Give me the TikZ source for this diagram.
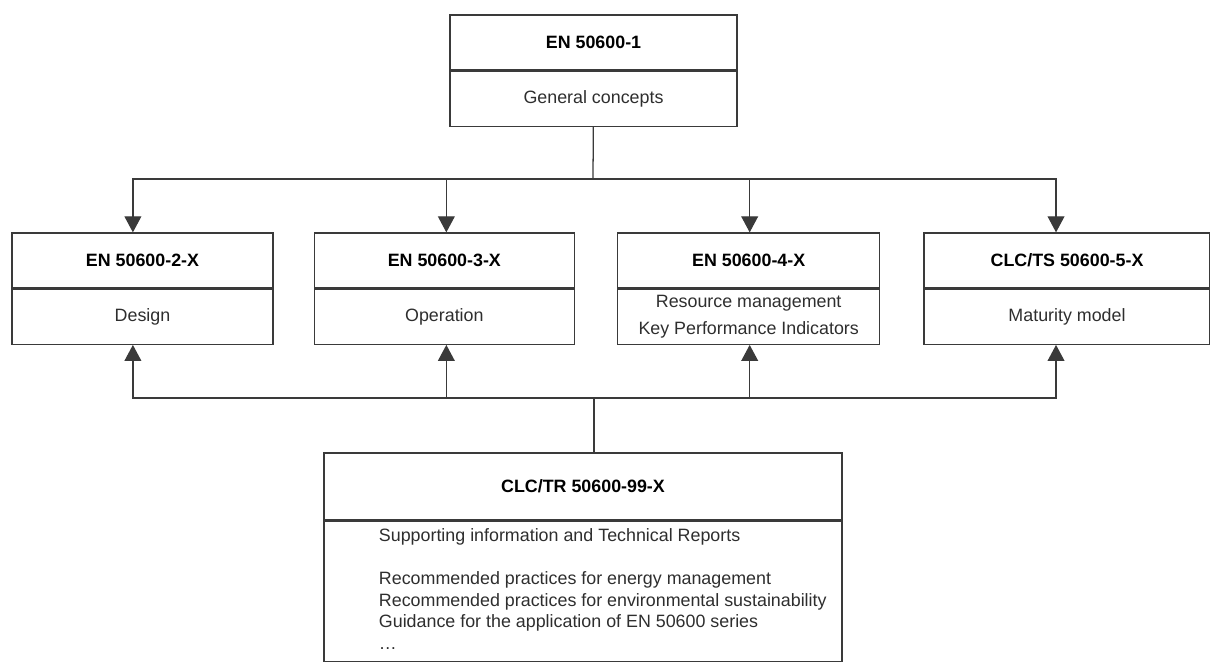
\documentclass[tikz,border=0pt]{standalone}
\usepackage{fontspec}
\setmainfont{Liberation Sans}
\usepackage{tikz}
\usetikzlibrary{arrows.meta}
\usetikzlibrary{shapes,positioning}
\definecolor{lineGray}{HTML}{3A3A3A}
\definecolor{textGray}{HTML}{2E2E2E}
\tikzset{part-line/.style={line width=0.9pt, draw=lineGray}}
\tikzset{>={Triangle[length=0.4cm, width=0.42cm]}}
\tikzset{part-head/.style={part-line, inner sep=0, minimum height=1.375cm, font=\bfseries\fontsize{12.7}{15}\selectfont}}
\tikzset{part-body/.style={part-line, inner sep=0, minimum height=1.375cm, align=center, text=textGray,
    font=\fontsize{12.7}{15.3}\selectfont}}
\newcommand{\partbox}[5]{
    \node[part-head, minimum width=#2, #3] (#1) {#4};
    \node[part-body, minimum width=#2, below=0pt of #1] (#1body) {#5};
}

\begin{document}
\begin{tikzpicture}[x=0.025cm, y=-0.025cm]
    \useasboundingbox (0,0) rectangle (1210,666);

    \partbox{general}{7.175cm}{at={(593.5,42.5)}}{EN 50600-1}{General concepts}

    \partbox{design}{6.525cm}{at={(142.5,260.5)}}{EN 50600-2-X}{Design}
    \partbox{operation}{6.5cm}{right=1cm of design}{EN 50600-3-X}{Operation}
    \partbox{resources}{6.55cm}{right=1.05cm of operation}{EN 50600-4-X}{Resource management\\[3.6pt]Key Performance Indicators}
    \partbox{maturity}{7.15cm}{right=1.075cm of resources}{CLC/TS 50600-5-X}{Maturity model}

    \node[part-head, minimum width=12.95cm, minimum height=1.675cm, at={(583,486.5)}] (reports) {CLC/TR 50600-99-X};
    \node[part-body, minimum width=12.95cm, minimum height=3.5cm, below=0pt of reports] (reportsbody) {%
        \begin{tabular}{@{\hspace{1.375cm}}p{11.575cm}@{}}
        Supporting information and Technical Reports\\[15.3pt]
        Recommended practices for energy management\\
        Recommended practices for environmental sustainability\\
        Guidance for the application of EN 50600 series\\
        \ldots
        \end{tabular}};

    \coordinate (topjoin) at (593,179);
    \coordinate (bottomjoin) at (594,398);

    \draw[part-line] (generalbody) -- (topjoin);
    \draw[part-line, ->] (topjoin) -| ([xshift=-0.24cm]design.north);
    \draw[part-line, ->] (topjoin) -| ([xshift=0.05cm]operation.north);
    \draw[part-line, ->] (topjoin) -| ([xshift=0.025cm]resources.north);
    \draw[part-line, ->] (topjoin) -| ([xshift=-0.275cm]maturity.north);

    \draw[part-line] (bottomjoin) -- (bottomjoin |- reports.north);
    \draw[part-line, ->] (bottomjoin) -| ([xshift=-0.24cm]designbody.south);
    \draw[part-line, ->] (bottomjoin) -| ([xshift=0.05cm]operationbody.south);
    \draw[part-line, ->] (bottomjoin) -| ([xshift=0.025cm]resourcesbody.south);
    \draw[part-line, ->] (bottomjoin) -| ([xshift=-0.275cm]maturitybody.south);
\end{tikzpicture}
\end{document}
